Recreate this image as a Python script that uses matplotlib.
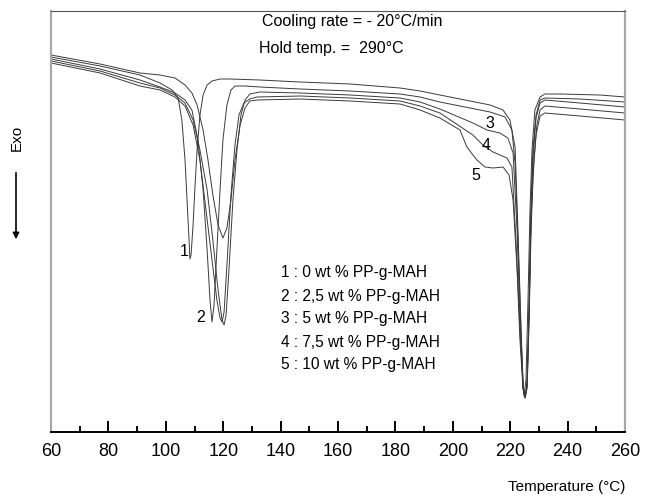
import numpy as np
import matplotlib
matplotlib.use("Agg")
from matplotlib import pyplot as plt
from matplotlib.ticker import MultipleLocator

plt.rcParams['font.family'] = ['Liberation Sans', 'DejaVu Sans']

# DSC cooling curves, heat flow in arbitrary units
t1 = [60.0, 77.1, 91.0, 98.0, 102.2, 104.3, 105.6, 106.7, 107.4, 108.1, 108.4, 108.8, 109.5, 110.2, 110.9,
      111.9, 113.0, 114.4, 116.1, 118.9, 122.4, 132.8, 146.8, 164.2, 181.6, 188.6, 195.5, 206.0, 213.0, 217.5,
      219.9, 221.7, 222.7, 223.8, 224.5, 224.8, 225.5, 226.2, 226.9, 227.6, 228.6, 230.4, 232.1, 237.4, 251.3, 260.0]
hf1 = [37.5, 36.6, 35.7, 34.9, 34.2, 33.4, 31.2, 27.2, 23.2, 19.2, 17.3, 17.7, 20.7, 24.7, 28.2,
       31.7, 33.7, 34.7, 35.1, 35.3, 35.3, 35.2, 35.0, 34.8, 34.4, 34.1, 33.7, 33.1, 32.7, 32.2,
       31.2, 28.5, 20.2, 10.2, 4.7, 3.6, 5.2, 13.2, 22.2, 28.2, 32.2, 33.5, 33.8, 33.8, 33.7, 33.5]

t2 = [60.0, 77.1, 91.0, 98.0, 103.2, 106.7, 109.1, 111.2, 113.0, 114.4, 115.4, 116.1, 116.8, 117.8, 118.9,
      119.9, 121.3, 122.7, 124.1, 127.6, 132.8, 146.8, 164.2, 181.6, 188.6, 195.5, 206.0, 213.0, 218.2, 220.6,
      221.7, 222.7, 223.8, 224.5, 225.2, 225.9, 226.6, 227.2, 227.9, 229.0, 230.4, 232.1, 244.3, 260.0]
hf2 = [37.3, 36.3, 35.2, 34.5, 33.9, 33.2, 32.2, 29.2, 24.2, 18.2, 13.2, 11.0, 12.7, 18.2, 24.2,
       29.2, 32.7, 34.2, 34.6, 34.6, 34.5, 34.3, 34.1, 33.8, 33.5, 33.0, 32.4, 32.0, 31.5, 30.2,
       26.9, 19.2, 9.7, 4.4, 3.5, 5.2, 13.2, 22.2, 28.2, 31.7, 33.2, 33.4, 33.3, 33.0]

t3 = [60.0, 77.1, 91.0, 98.0, 103.2, 106.7, 109.5, 111.9, 114.4, 116.4, 118.2, 119.6, 120.3, 121.0, 122.0,
      123.4, 124.8, 126.2, 127.6, 129.3, 132.8, 146.8, 164.2, 181.6, 188.6, 195.5, 207.0, 211.9, 216.4, 219.2,
      221.0, 222.4, 223.4, 224.5, 225.2, 225.9, 226.6, 227.2, 227.9, 229.0, 230.4, 232.1, 244.3, 260.0]
hf3 = [37.1, 36.1, 34.9, 34.4, 33.7, 32.9, 31.2, 28.2, 24.2, 19.2, 14.2, 11.2, 10.7, 11.7, 16.2,
       23.2, 28.2, 31.7, 33.2, 33.8, 34.0, 33.9, 33.7, 33.4, 33.0, 32.3, 30.9, 30.2, 29.9, 29.4,
       27.9, 20.2, 11.2, 4.7, 3.4, 4.7, 12.2, 21.2, 27.2, 31.4, 32.9, 33.2, 32.9, 32.5]

t4 = [60.0, 77.1, 91.0, 98.0, 103.2, 106.7, 109.5, 111.9, 114.0, 116.1, 117.8, 118.9, 119.6, 120.3, 121.3,
      122.7, 124.1, 125.5, 127.2, 129.3, 131.8, 146.8, 164.2, 181.6, 188.6, 195.5, 207.0, 210.5, 214.0, 218.9,
      220.6, 222.0, 223.4, 224.5, 225.2, 225.9, 226.6, 227.2, 228.3, 229.3, 230.4, 232.1, 244.3, 260.0]
hf4 = [36.9, 35.9, 34.6, 34.2, 33.5, 32.6, 30.7, 27.2, 22.2, 17.2, 13.2, 11.4, 11.0, 12.0, 16.7,
       23.7, 28.7, 31.7, 32.9, 33.3, 33.5, 33.6, 33.4, 33.1, 32.6, 31.9, 29.7, 28.7, 28.0, 27.4,
       26.5, 19.2, 10.2, 4.4, 3.5, 4.7, 12.2, 20.7, 27.2, 30.7, 32.2, 32.6, 32.3, 31.9]

t5 = [60.0, 77.1, 91.0, 98.0, 103.2, 106.7, 109.1, 110.9, 113.0, 114.7, 116.4, 118.2, 119.9, 121.3, 122.7,
      124.1, 125.9, 127.6, 129.3, 131.8, 146.8, 164.2, 181.6, 188.6, 195.5, 202.5, 204.9, 208.4, 211.2, 214.0,
      217.5, 219.6, 221.0, 222.4, 223.4, 224.5, 225.2, 225.9, 226.6, 227.2, 227.9, 229.0, 230.4, 232.1, 244.3, 260.0]
hf5 = [37.7, 36.8, 35.9, 35.7, 35.4, 34.7, 33.9, 32.7, 30.2, 27.2, 23.7, 20.7, 19.4, 20.4, 23.2,
       27.2, 30.7, 32.4, 33.1, 33.2, 33.3, 33.1, 32.8, 32.2, 31.4, 30.2, 28.5, 27.2, 26.5, 26.4,
       26.5, 25.7, 23.2, 16.2, 9.2, 4.2, 3.4, 4.4, 11.2, 19.2, 25.7, 29.7, 31.6, 31.9, 31.6, 31.2]

legend_lines = ['1 : 0 wt % PP-g-MAH', '2 : 2,5 wt % PP-g-MAH', '3 : 5 wt % PP-g-MAH',
                '4 : 7,5 wt % PP-g-MAH', '5 : 10 wt % PP-g-MAH']

fig = plt.figure(figsize=(6.45, 4.98), dpi=100)
ax = fig.add_axes([51/645, 1-432/498, 574/645, 421/498])

for t, hf in [(t1, hf1), (t2, hf2), (t3, hf3), (t4, hf4), (t5, hf5)]:
    ax.plot(t, hf, color='#3a3a3a', lw=0.7)

ax.set_xlim(60, 260)
ax.set_ylim(0, 42.1)
ax.set_yticks([])
ax.xaxis.set_major_locator(MultipleLocator(20))
ax.xaxis.set_minor_locator(MultipleLocator(10))
ax.tick_params(axis='x', which='major', direction='in', length=8, width=1.4, labelsize=13, pad=8)
ax.tick_params(axis='x', which='minor', direction='in', length=4.5, width=1.4)

ax.spines['bottom'].set_linewidth(1.4)
ax.spines['bottom'].set_color('black')
ax.spines['left'].set_color('#a8a8a8')
ax.spines['left'].set_linewidth(1.6)
ax.spines['right'].set_color('#a8a8a8')
ax.spines['right'].set_linewidth(1.6)
ax.spines['top'].set_color('#555555')
ax.spines['top'].set_linewidth(0.8)

# header texts
ax.text(0.368, 0.993, 'Cooling rate = - 20°C/min', transform=ax.transAxes, fontsize=11.5, va='top', ha='left')
ax.text(0.363, 0.929, 'Hold temp. =  290°C', transform=ax.transAxes, fontsize=11.5, va='top', ha='left')

# curve labels
ax.text(106.3, 18.0, '1', fontsize=11.5, ha='center', va='center')
ax.text(112.3, 11.4, '2', fontsize=11.5, ha='center', va='center')
ax.text(213.0, 30.9, '3', fontsize=11.5, ha='center', va='center')
ax.text(211.5, 28.6, '4', fontsize=11.5, ha='center', va='center')
ax.text(208.0, 25.7, '5', fontsize=11.5, ha='center', va='center')

for i, s in enumerate(legend_lines):
    ax.text(140.3, 15.9 - i * 2.3, s, fontsize=11.2, ha='left', va='center')

ax.text(1.0, -0.13, 'Temperature (°C)', transform=ax.transAxes, fontsize=11, ha='right', va='center')

# Exo arrow on the left
fig.text(17/645, 1-138/498, 'Exo', rotation=90, fontsize=11, ha='center', va='center')
ax.annotate('', xy=(16, 498-242), xytext=(16, 498-170), xycoords='figure pixels',
            textcoords='figure pixels',
            arrowprops=dict(arrowstyle='-|>', color='black', lw=1.2, mutation_scale=9))

fig.savefig('out.png', dpi=100)
